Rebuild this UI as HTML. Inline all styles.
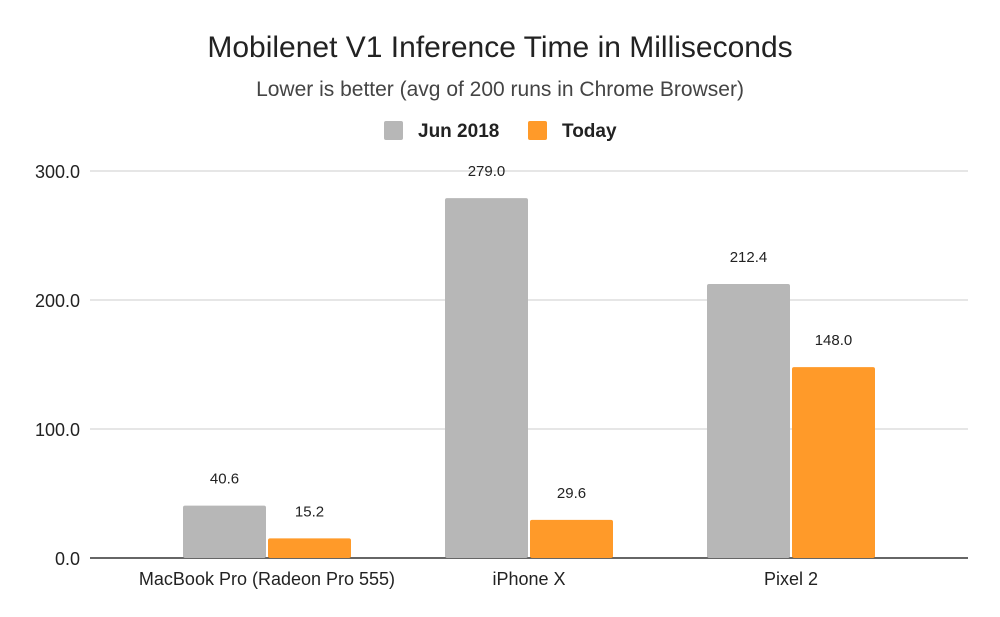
<!DOCTYPE html>
<html><head><meta charset="utf-8"><style>
body{margin:0;background:#fff;}
svg{display:block;font-family:"Liberation Sans",sans-serif;}
</style></head><body>
<svg id="c" width="1000" height="617">
<text x="500" y="57" text-anchor="middle" font-size="30" fill="#222">Mobilenet V1 Inference Time in Milliseconds</text>
<text x="500" y="96" text-anchor="middle" font-size="21" fill="#444">Lower is better (avg of 200 runs in Chrome Browser)</text>
<g>
<rect x="384" y="121" width="19" height="19" rx="2" fill="#b7b7b7"/>
<text x="418" y="137" font-size="19" font-weight="bold" fill="#222">Jun 2018</text>
<rect x="528" y="121" width="19" height="19" rx="2" fill="#ff9a29"/>
<text x="562" y="137" font-size="19" font-weight="bold" fill="#222">Today</text>
</g>
<g id="g"></g>
</svg>
<script>
const categories=["MacBook Pro (Radeon Pro 555)","iPhone X","Pixel 2"];
const jun2018=[40.6,279.0,212.4];
const today=[15.2,29.6,148.0];
const ticks=[0,100,200,300];
const tickLabels=["0.0","100.0","200.0","300.0"];
const NS="http://www.w3.org/2000/svg";
const g=document.getElementById('g');
const gx0=90,gx1=968,x0=136,x1=922,y0=558,yTop=171,vmax=300;
const y=v=>y0-(y0-yTop)*v/vmax;
const bandW=(x1-x0)/categories.length;
const xc=i=>x0+bandW*(i+0.5);
function mk(t,a){const e=document.createElementNS(NS,t);for(const k in a)e.setAttribute(k,a[k]);g.appendChild(e);return e;}
ticks.forEach((t,i)=>{
 const l=mk('line',{x1:gx0,x2:gx1,y1:y(t),y2:y(t),stroke:t===0?'#333':'#ccc','stroke-width':t===0?1.5:1});
 
 
 const tx=mk('text',{x:80,y:y(t)+7,'text-anchor':'end','font-size':18,fill:'#222'});tx.textContent=tickLabels[i];
 
 
});
const bw=83;
categories.forEach((c,i)=>{
 [[jun2018,'#b7b7b7',-bw-1,'jun-2018'],[today,'#ff9a29',1,'today']].forEach(([arr,col,off,nm])=>{
  const v=arr[i];
  const r=mk('rect',{x:xc(i)+off,y:y(v),width:bw,height:y0-y(v),fill:col,rx:2});
  
  
  const t=mk('text',{x:xc(i)+off+bw/2,y:y(v)-22,'text-anchor':'middle','font-size':15,fill:'#222'});t.textContent=v.toFixed(1);
  
  
 });
 const t=mk('text',{x:xc(i),y:585,'text-anchor':'middle','font-size':18,fill:'#222'});t.textContent=c;
 
 
});
</script>
</body></html>
